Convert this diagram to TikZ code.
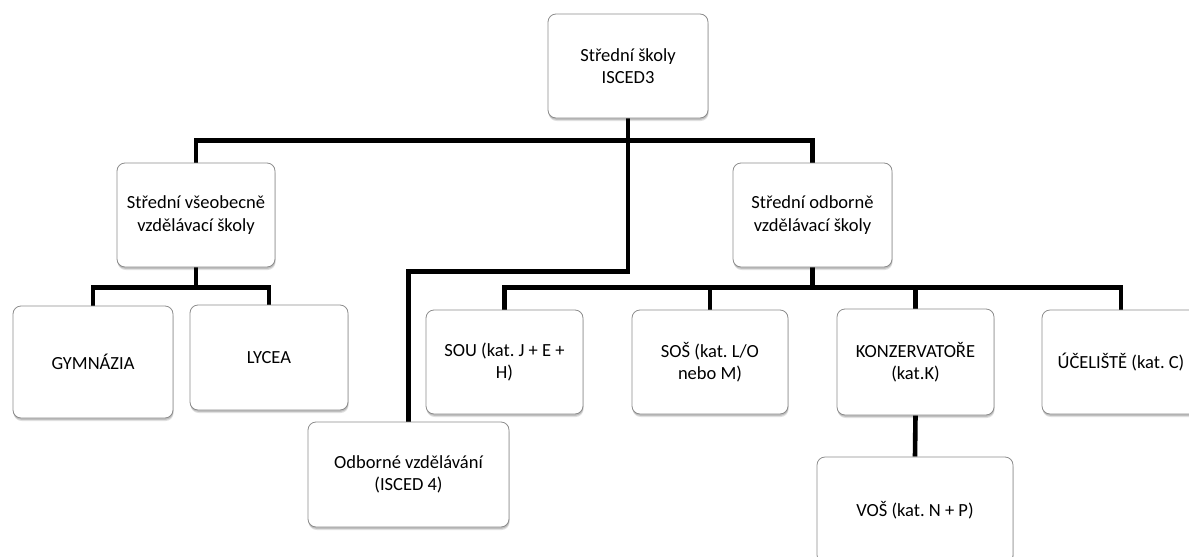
\documentclass[tikz,border=0pt]{standalone}
\usepackage{fontspec}
\setmainfont{Carlito}
\frenchspacing
\usetikzlibrary{calc,shadows,backgrounds}
\tikzset{
  box/.style={draw=black!45, line width=0.8pt, fill=white, rounded corners=8pt,
    align=center, font=\fontsize{18.5}{22.5}\selectfont,
    general shadow={shadow yshift=-3pt, shadow xshift=0.6pt, fill=black, opacity=0.12},
    general shadow={shadow yshift=-1.8pt, shadow xshift=0.3pt, fill=black, opacity=0.15}},
  conn/.style={line width=4.6pt, black}
}

\begin{document}
\begin{tikzpicture}[x=1pt, y=-1pt]
		%%%%% FRAME %%%%%
		\useasboundingbox (0,0) rectangle (1189,557);
		\clip (0,0) rectangle (1189,557);
		
		%%%%% BOXES %%%%%
		\node[box, minimum width=160pt, minimum height=104pt] (isced3) at (628,66) {Střední školy\\ISCED3};
		
		\node[box, minimum width=158pt, minimum height=104pt] (vseob) at (196,215) {Střední všeobecně\\vzdělávací školy};
		\node[box, minimum width=159pt, minimum height=104pt] (odbor) at (812.5,215) {Střední odborně\\vzdělávací školy};
		
		\node[box, minimum width=160pt, minimum height=112pt] (gym) at (93,362) {GYMNÁZIA};
		\node[box, minimum width=158pt, minimum height=105pt] (lycea) at (269,357.5) {LYCEA};
		
		\node[box, minimum width=157pt, minimum height=104pt] (sou) at (504.5,362) {SOU (kat. J + E +\\H)};
		\node[box, minimum width=156pt, minimum height=104pt] (sos) at (710,362) {SOŠ (kat. L/O\\nebo M)};
		\node[box, minimum width=157pt, minimum height=106pt] (konz) at (915.5,362) {KONZERVATOŘE\\(kat.K)};
		\node[box, minimum width=158pt, minimum height=104pt] (uceliste) at (1121,362) {ÚČELIŠTĚ (kat. C)};
		
		\node[box, minimum width=201pt, minimum height=105pt] (isced4) at (408.5,474.5) {Odborné vzdělávání\\(ISCED 4)};
		\node[box, minimum width=196pt, minimum height=106pt] (vos) at (915,510) {VOŠ (kat. N + P)};
		
		%%%%% CONNECTORS %%%%%
		\begin{scope}[on background layer]
		\coordinate (topbar) at ($(isced3.south)+(0,22)$);
		\coordinate (isedbar) at ($(isced3.south)+(0,153)$);
		\coordinate (vbar) at ($(vseob.south)+(0,20)$);
		\coordinate (obar) at ($(odbor.south)+(0,20)$);
		
		\draw[conn] (isced3.south) -- (topbar);
		\draw[conn] (vseob.north) |- (topbar) -| (odbor.north);
		\draw[conn] (isced3.south) -- (isedbar) -| (isced4.north);
		
		\draw[conn] (vseob.south) -- (vbar);
		\draw[conn] (gym.north) |- (vbar) -| (lycea.north);
		
		\draw[conn] (odbor.south) -- (obar);
		\draw[conn] (sou.north) |- (obar) -| (uceliste.north);
		\draw[conn] (sos.north) -- (sos.north |- obar);
		\draw[conn] (konz.north) -- (konz.north |- obar);
		
		\draw[conn] (konz.south) -- (vos.north);
		\end{scope}
\end{tikzpicture}
\end{document}
